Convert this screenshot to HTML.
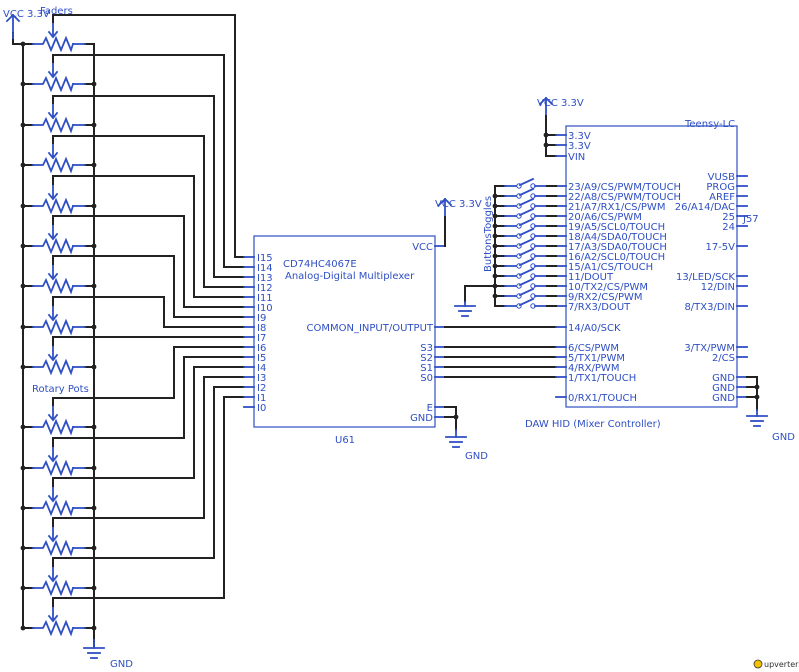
<!DOCTYPE html>
<html><head><meta charset="utf-8"><style>
html,body{margin:0;padding:0;background:#fff;}
svg{display:block;}
text{font-family:"DejaVu Sans","Liberation Sans",sans-serif;font-size:10px;fill:#2f4fc4;}
</style></head><body>
<svg id="s" width="799" height="672" viewBox="0 0 799 672" xmlns="http://www.w3.org/2000/svg">
<g id="g" fill="none" stroke-linecap="square"></g>
<text x="3" y="17">VCC 3.3V</text>
<text x="40" y="14">Faders</text>
<text x="32" y="392">Rotary Pots</text>
<text x="110" y="667">GND</text>
<text x="283" y="267">CD74HC4067E</text>
<text x="285" y="279">Analog-Digital Multiplexer</text>
<text x="335" y="443">U61</text>
<text x="435" y="207">VCC 3.3V</text>
<text x="465" y="459">GND</text>
<text x="537" y="106">VCC 3.3V</text>
<text x="685" y="127">Teensy-LC</text>
<text x="743" y="222">J57</text>
<text x="525" y="427">DAW HID (Mixer Controller)</text>
<text x="772" y="440">GND</text>
<text transform="translate(491,272) rotate(-90)">ButtonsToggles</text>
<g text-anchor="start">
<text x="257" y="261">I15</text><text x="257" y="271">I14</text><text x="257" y="281">I13</text><text x="257" y="291">I12</text>
<text x="257" y="301">I11</text><text x="257" y="311">I10</text><text x="257" y="321">I9</text><text x="257" y="331">I8</text>
<text x="257" y="341">I7</text><text x="257" y="351">I6</text><text x="257" y="361">I5</text><text x="257" y="371">I4</text>
<text x="257" y="381">I3</text><text x="257" y="391">I2</text><text x="257" y="401">I1</text><text x="257" y="411">I0</text>
</g>
<g text-anchor="end">
<text x="433" y="250">VCC</text>
<text x="433" y="331">COMMON_INPUT/OUTPUT</text>
<text x="433" y="351">S3</text><text x="433" y="361">S2</text><text x="433" y="371">S1</text><text x="433" y="381">S0</text>
<text x="433" y="411">E</text><text x="433" y="421">GND</text>
</g>
<g>
<text x="568" y="139">3.3V</text><text x="568" y="149">3.3V</text><text x="568" y="160">VIN</text>
<text x="568" y="190">23/A9/CS/PWM/TOUCH</text><text x="568" y="200">22/A8/CS/PWM/TOUCH</text>
<text x="568" y="210">21/A7/RX1/CS/PWM</text><text x="568" y="220">20/A6/CS/PWM</text>
<text x="568" y="230">19/A5/SCL0/TOUCH</text><text x="568" y="240">18/A4/SDA0/TOUCH</text>
<text x="568" y="250">17/A3/SDA0/TOUCH</text><text x="568" y="260">16/A2/SCL0/TOUCH</text>
<text x="568" y="270">15/A1/CS/TOUCH</text><text x="568" y="280">11/DOUT</text>
<text x="568" y="290">10/TX2/CS/PWM</text><text x="568" y="300">9/RX2/CS/PWM</text>
<text x="568" y="310">7/RX3/DOUT</text><text x="568" y="331">14/A0/SCK</text>
<text x="568" y="351">6/CS/PWM</text><text x="568" y="361">5/TX1/PWM</text>
<text x="568" y="371">4/RX/PWM</text><text x="568" y="381">1/TX1/TOUCH</text>
<text x="568" y="401">0/RX1/TOUCH</text>
</g>
<g text-anchor="end">
<text x="735" y="180">VUSB</text><text x="735" y="190">PROG</text><text x="735" y="200">AREF</text>
<text x="735" y="210">26/A14/DAC</text><text x="735" y="220">25</text><text x="735" y="230">24</text>
<text x="735" y="250">17-5V</text><text x="735" y="280">13/LED/SCK</text><text x="735" y="290">12/DIN</text>
<text x="735" y="310">8/TX3/DIN</text><text x="735" y="351">3/TX/PWM</text><text x="735" y="361">2/CS</text>
<text x="735" y="381">GND</text><text x="735" y="391">GND</text><text x="735" y="401">GND</text>
</g>
<circle cx="758" cy="664" r="4" fill="#f2c200" stroke="#333" stroke-width="0.8"/>
<text x="764" y="667" style="font-size:8px;fill:#333">upverter</text>
</svg>
<script>
var g=document.getElementById('g'),B='#2f4fc4',K='#222';
function L(pts,c,w){var p=document.createElementNS('http://www.w3.org/2000/svg','polyline');p.setAttribute('points',pts.map(function(a){return a.join(',')}).join(' '));p.setAttribute('stroke',c);p.setAttribute('stroke-width',w||(c==K?2:1.8));g.appendChild(p);}
function D(x,y){var c=document.createElementNS('http://www.w3.org/2000/svg','circle');c.setAttribute('cx',x);c.setAttribute('cy',y);c.setAttribute('r',2.4);c.setAttribute('fill',K);g.appendChild(c);}
function O(x,y){var c=document.createElementNS('http://www.w3.org/2000/svg','circle');c.setAttribute('cx',x);c.setAttribute('cy',y);c.setAttribute('r',2.2);c.setAttribute('fill','#fff');c.setAttribute('stroke',B);c.setAttribute('stroke-width',1);g.appendChild(c);}
function R(x,y,w,h){var r=document.createElementNS('http://www.w3.org/2000/svg','rect');r.setAttribute('x',x);r.setAttribute('y',y);r.setAttribute('width',w);r.setAttribute('height',h);r.setAttribute('stroke',B);r.setAttribute('stroke-width',1.2);r.setAttribute('fill','none');g.appendChild(r);}
function GND(x,y){L([[x-10,y],[x+10,y]],B);L([[x-6,y+5],[x+6,y+5]],B);L([[x-3,y+10],[x+3,y+10]],B);}
function VCC(x,y){L([[x,y],[x,y+18]],B);L([[x-6,y+6],[x,y],[x+6,y+6]],B);}
var rows=[44,84,125,165,206,246,286,327,367,427,468,508,548,588,628];
var wy=[15,55,96,136,176,216,256,297,337,398,438,478,518,558,598];
var wx=[235,224,214,204,194,184,174,164,null,174,184,194,204,214,224];
var pin=[257,267,277,287,297,307,317,327,337,347,357,367,377,387,397];
L([[23,44],[23,628],[33,628]],K);
L([[85,44],[94,44],[94,646]],K);
VCC(13,15);L([[13,33],[13,44],[33,44]],K);L([[13,33],[13,38]],B);
rows.forEach(function(y,i){
 L([[23,y],[33,y]],K);L([[85,y],[94,y]],K);
 L([[33,y],[43,y],[46,y-6],[51,y+6],[56,y-6],[61,y+6],[66,y-6],[71,y+6],[73,y]],B);
 L([[73,y],[85,y]],B);
 D(23,y); if(i>0) D(94,y);
 L([[53,y-22],[53,y-8]],B);L([[49,y-12],[53,y-7],[57,y-12]],B);
 if(wx[i]===null){L([[53,y-22],[53,wy[i]],[244,wy[i]]],K);}
 else L([[53,y-22],[53,wy[i]],[wx[i],wy[i]],[wx[i],pin[i]],[244,pin[i]]],K);
 L([[244,pin[i]],[254,pin[i]]],B);
});
GND(94,648);L([[94,640],[94,648]],B);
R(254,236,181,191);
L([[244,407],[254,407]],B);
[246,327,347,357,367,377,407,417].forEach(function(y){L([[435,y],[445,y]],B);});
VCC(445,199);L([[445,217],[445,246]],K);
L([[445,327],[556,327]],K);
[347,357,367,377].forEach(function(y){L([[445,y],[556,y]],K);});
L([[445,407],[456,407],[456,430]],K);L([[445,417],[456,417]],K);D(456,417);
GND(456,437);L([[456,430],[456,437]],B);
R(566,126,171,281);
VCC(546,98);L([[546,116],[546,156],[556,156]],K);L([[546,135],[556,135]],K);L([[546,145],[556,145]],K);D(546,135);D(546,145);
[135,145,156,186,196,206,216,226,236,246,256,266,276,286,296,306,327,347,357,367,377,397].forEach(function(y){L([[556,y],[566,y]],B);});
[176,186,196,206,216,226,246,276,286,306,347,357,377,387,397].forEach(function(y){L([[737,y],[747,y]],B);});
var sw=[186,196,206,216,226,236,246,256,266,276,286,296,306];
L([[495,186],[495,306]],K);
sw.forEach(function(y,i){L([[495,y],[505,y]],K);L([[505,y],[517,y]],B);O(519,y);O(533,y);L([[520,y-1],[533,y-7]],B);L([[535,y],[547,y]],B);L([[547,y],[556,y]],K);if(i>0&&i<12)D(495,y);});
L([[495,286],[465,286],[465,302]],K);GND(465,306);L([[465,302],[465,306]],B);
L([[747,377],[757,377],[757,410]],K);L([[747,387],[757,387]],K);L([[747,397],[757,397]],K);D(757,387);D(757,397);
GND(757,416);L([[757,410],[757,416]],B);
</script>
</body></html>
